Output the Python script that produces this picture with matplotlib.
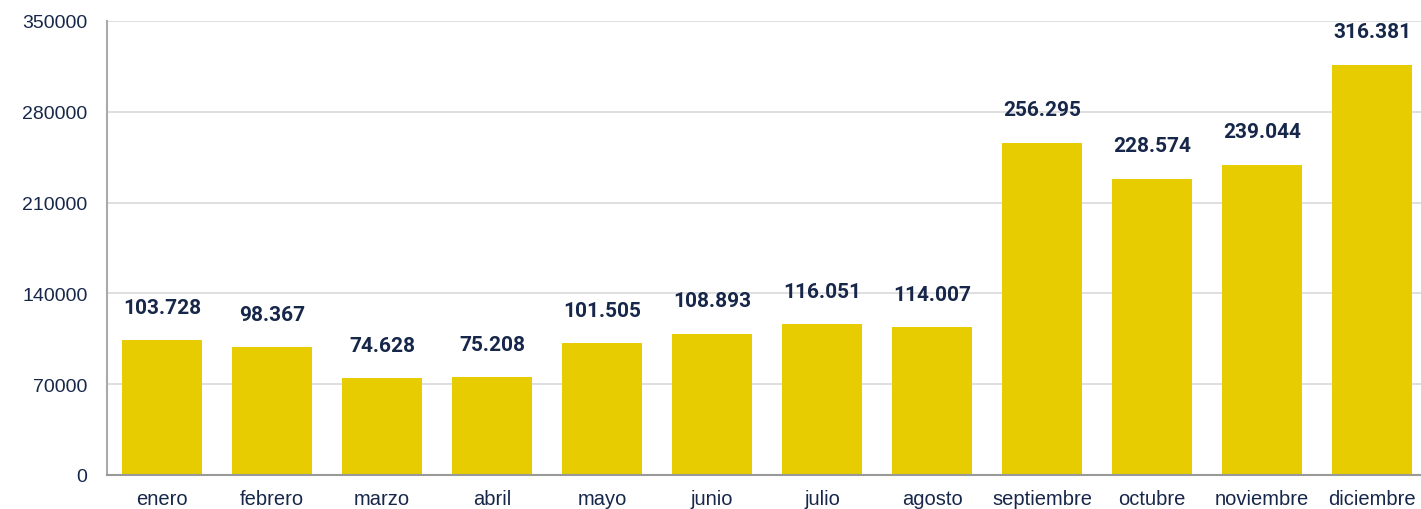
import matplotlib.pyplot as plt
import numpy as np

meses = ['enero', 'febrero', 'marzo', 'abril', 'mayo', 'junio', 'julio',
         'agosto', 'septiembre', 'octubre', 'noviembre', 'diciembre']
valores = [103728, 98367, 74628, 75208, 101505, 108893, 116051,
           114007, 256295, 228574, 239044, 316381]
yticks = [0, 70000, 140000, 210000, 280000, 350000]

navy = '#17274a'

fig = plt.figure(figsize=(14.21, 5.10), dpi=100)
ax = fig.add_axes([107 / 1421, 34 / 510, (1421 - 107) / 1421, 454 / 510])

x = np.arange(len(meses))
ax.bar(x, valores, width=0.72, color='#e6cc00', zorder=3)

for xi, v in zip(x, valores):
    label = f'{v:,}'.replace(',', '.')
    ax.annotate(label, (xi, v), xytext=(0, 17), textcoords='offset points',
                ha='center', va='bottom', fontsize=15, fontweight='bold',
                family='Roboto', color=navy)

ax.set_xlim(-0.5, 11.445)
ax.set_ylim(0, 350000)
ax.set_yticks(yticks)
ax.set_yticklabels([str(t) for t in yticks], family='Liberation Sans',
                   fontsize=14, color=navy)
ax.set_xticks(x)
ax.set_xticklabels(meses, family='Liberation Sans', fontsize=14.5, color=navy)
ax.tick_params(axis='both', length=0)
ax.tick_params(axis='x', pad=10)
ax.tick_params(axis='y', pad=14)

ax.grid(axis='y', color='#d9d9d9', linewidth=1.2, zorder=0)
for s in ['top', 'right']:
    ax.spines[s].set_visible(False)
ax.spines['left'].set_color('#aaaaaa')
ax.spines['left'].set_linewidth(1.5)
ax.spines['bottom'].set_color('#999999')
ax.spines['bottom'].set_linewidth(1.5)
ax.spines['bottom'].set_zorder(4)

fig.savefig('out.png', dpi=100)
